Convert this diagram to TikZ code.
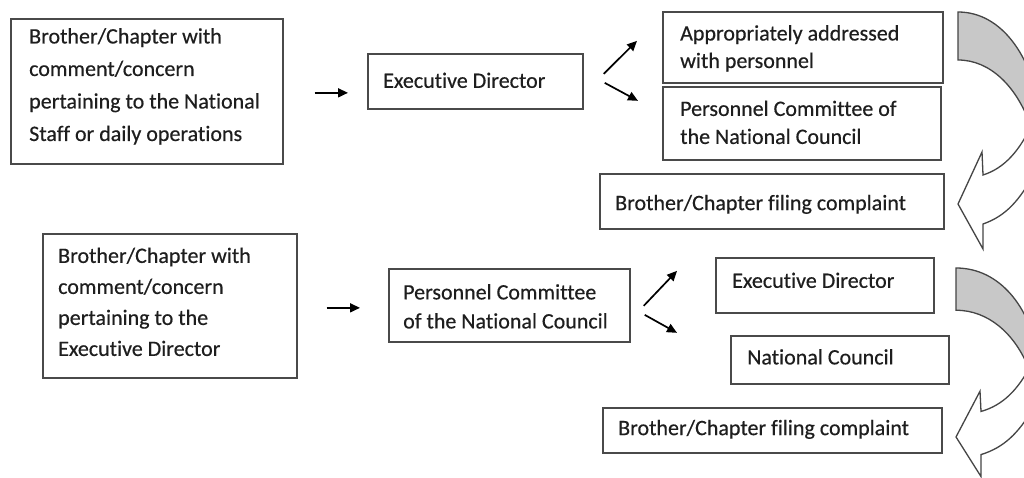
\documentclass[tikz,border=0pt]{standalone}
\usepackage{fontspec}
\setmainfont[Ligatures=NoCommon, FakeBold=0.4]{Carlito}
\usetikzlibrary{arrows.meta,calc}
\definecolor{boxline}{HTML}{4A4A4A}
\definecolor{txt}{HTML}{1E1E1E}
\definecolor{shade}{HTML}{C8C8C8}
\definecolor{outl}{HTML}{454545}
\tikzset{
  box/.style={draw=boxline, line width=1.7pt, anchor=north west, inner sep=0pt},
  lbl/.style={anchor=west, inner sep=0pt, align=left, text=txt,
    font=\fontsize{22}{#1}\selectfont},
  arr/.style={draw=black, line width=1.7pt, -{Triangle[length=10pt,width=9pt]}},
  pics/curvarrow/.style={code={
    \filldraw[fill=shade, draw=outl, line width=1.3pt]
      (0,0) .. controls (44,0) and (74,45) .. (82,100) -- (72,112)
      .. controls (58,74) and (32,48) .. (0,48) -- cycle;
    \filldraw[fill=white, draw=outl, line width=1.3pt, line join=miter]
      (74,112) .. controls (62,138) and (47,156) .. (25,163) -- (24,140)
      -- (0,192) -- (25,237) -- (25,212)
      .. controls (48,204) and (62,188) .. (77,160);
  }}
}
\begin{document}
\begin{tikzpicture}[x=1pt,y=-1pt]
\useasboundingbox (0,0) rectangle (1024,478);
\clip (0,0) rectangle (1024,478);
\fill[white] (0,0) rectangle (1024,478);

% boxes
\node[box, minimum width=272, minimum height=145] (A) at (10,18) {};
\node[box, minimum width=215, minimum height=55]  (B) at (367,53) {};
\node[box, minimum width=280, minimum height=71]  (C) at (662,11) {};
\node[box, minimum width=278, minimum height=73]  (D) at (662,86) {};
\node[box, minimum width=344, minimum height=55]  (E) at (599,173) {};
\node[box, minimum width=254, minimum height=144] (F) at (42,233) {};
\node[box, minimum width=241, minimum height=73]  (G) at (388,268) {};
\node[box, minimum width=218, minimum height=55]  (H) at (715,257) {};
\node[box, minimum width=218, minimum height=48]  (I) at (730,335) {};
\node[box, minimum width=339, minimum height=45]  (J) at (602,407) {};

% texts
\node[lbl=32.5, xshift=19pt, yshift=5pt] (tA) at (A.west)
  {Brother/Chapter with\\comment/concern\\pertaining to the National\\Staff or daily operations};
\node[lbl=28, xshift=16pt, yshift=1pt] (tB) at (B.west) {Executive Director};
\node[lbl=27.5, xshift=18pt, yshift=-1pt] (tC) at (C.west) {Appropriately addressed\\with personnel};
\node[lbl=28, xshift=18pt, yshift=1pt] (tD) at (D.west) {Personnel Committee of\\the National Council};
\node[lbl=28, xshift=16pt, yshift=-3pt] (tE) at (E.west) {Brother/Chapter filing complaint};
\node[lbl=31, xshift=16pt, yshift=4pt] (tF) at (F.west)
  {Brother/Chapter with\\comment/concern\\pertaining to the\\Executive Director};
\node[lbl=29, xshift=15pt, yshift=-1pt] (tG) at (G.west) {Personnel Committee\\of the National Council};
\node[lbl=28, xshift=17pt, yshift=5pt] (tH) at (H.west) {Executive Director};
\node[lbl=28, xshift=17pt, yshift=3pt] (tI) at (I.west) {National Council};
\node[lbl=28, xshift=16pt, yshift=1pt] (tJ) at (J.west) {Brother/Chapter filing complaint};

% straight arrows
\draw[arr] ($(A.east)+(31,1.5)$) -- ($(B.west)+(-19,11.5)$);
\draw[arr] ($(B.east)+(20,-7.5)$) -- ($(C.west)+(-25,-6.5)$);
\draw[arr] ($(B.east)+(21,1.5)$) -- ($(D.west)+(-24,-22.5)$);
\draw[arr] ($(F.east)+(29,2)$) -- ($(G.west)+(-28,2.5)$);
\draw[arr] ($(G.east)+(13,0.5)$) -- ($(H.west)+(-38,-14.5)$);
\draw[arr] ($(G.east)+(14,9.5)$) -- ($(I.west)+(-53,-27)$);

% curved arrows
\pic[shift={(958,12)}] {curvarrow};
\pic[shift={(956,268)}, yscale=0.88] {curvarrow};
\end{tikzpicture}
\end{document}
